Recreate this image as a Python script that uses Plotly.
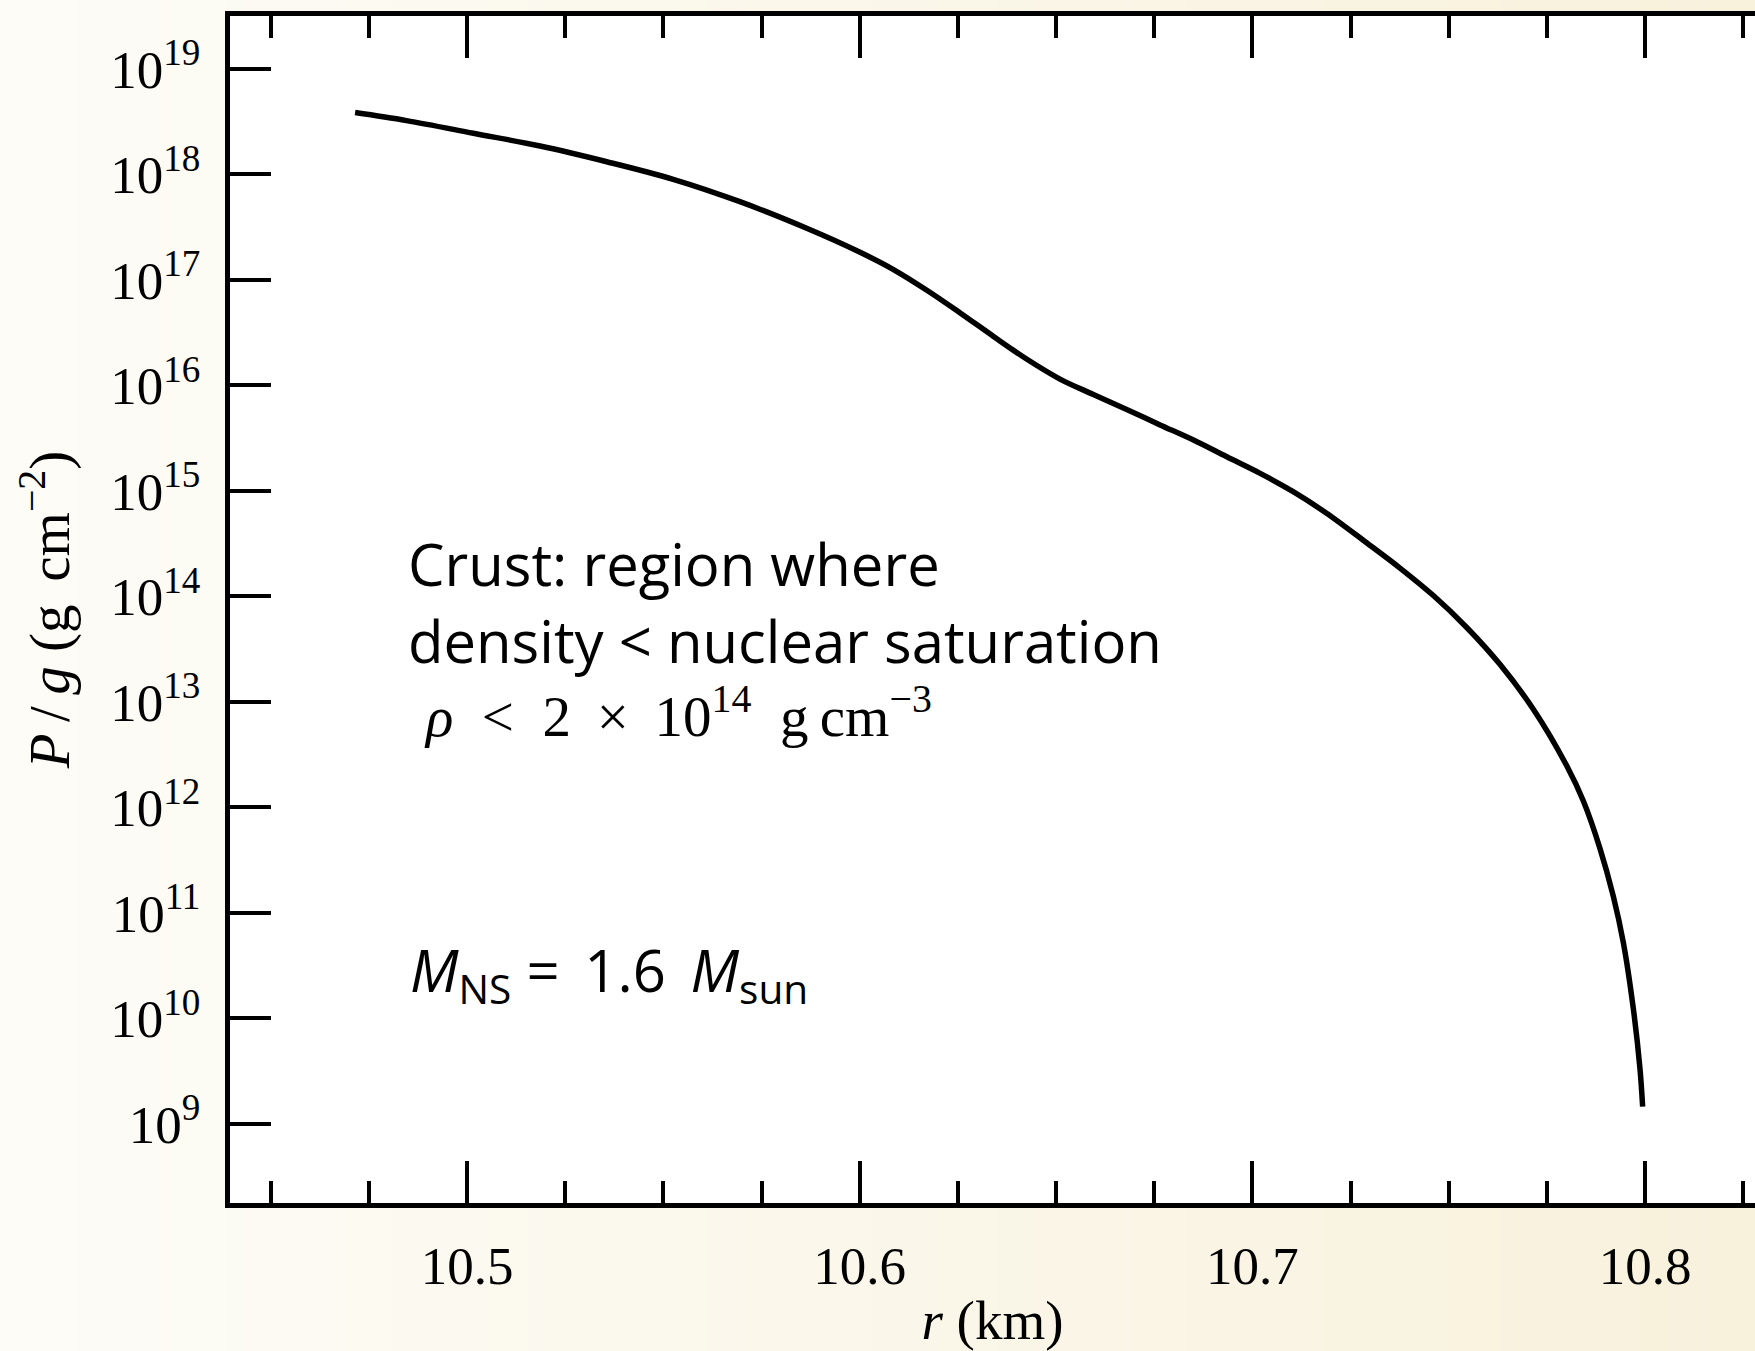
import base64
import struct
import zlib

import plotly.graph_objects as go

# Pressure over gravity in the neutron-star crust, as a function of radius
radius_km = [
    10.4715, 10.4846, 10.5016, 10.5186, 10.5356, 10.5525, 10.5695, 10.5865,
    10.6001, 10.6086, 10.6171, 10.6256, 10.6340, 10.6425, 10.6510, 10.6595,
    10.6680, 10.6765, 10.6850, 10.6935, 10.7020, 10.7104, 10.7189, 10.7291,
    10.7376, 10.7461, 10.7546, 10.7631, 10.7716, 10.7801, 10.7843, 10.7885,
    10.7919, 10.7945, 10.7970, 10.7987, 10.7994,
]
p_over_g = [
    3.86e18, 3.24e18, 2.46e18, 1.86e18, 1.32e18, 9.00e17, 5.52e17, 3.09e17,
    1.83e17, 1.255e17, 7.99e16, 4.87e16, 2.93e16, 1.78e16, 1.15e16, 8.22e15,
    5.92e15, 4.23e15, 3.04e15, 2.11e15, 1.47e15, 9.84e14, 6.15e14, 3.23e14,
    1.86e14, 1.02e14, 5.08e13, 2.26e13, 8.49e12, 2.47e12, 1.15e12, 4.12e11,
    1.45e11, 5.20e10, 1.26e10, 3.40e9, 1.46e9,
]

x_tick_vals = [10.5, 10.6, 10.7, 10.8]
x_tick_text = ["10.5", "10.6", "10.7", "10.8"]
y_exponents = [9, 10, 11, 12, 13, 14, 15, 16, 17, 18, 19]
y_tick_vals = [10.0 ** e for e in y_exponents]
y_tick_text = [f"10<sup>{e}</sup>" for e in y_exponents]

SERIF = "Liberation Serif"
SANS = "Open Sans"
INK = "black"


def gradient_png(left_rgb, right_rgb, width=128):
    """Tiny horizontal-gradient PNG, returned as a data URI."""
    row = bytearray([0])
    for i in range(width):
        t = i / (width - 1)
        for a, b in zip(left_rgb, right_rgb):
            row.append(int(round(a + (b - a) * t)))
    raw = bytes(row)

    def chunk(tag, data):
        c = tag + data
        return struct.pack(">I", len(data)) + c + struct.pack(">I", zlib.crc32(c) & 0xFFFFFFFF)

    png = b"\x89PNG\r\n\x1a\n"
    png += chunk(b"IHDR", struct.pack(">IIBBBBB", width, 1, 8, 2, 0, 0, 0))
    png += chunk(b"IDAT", zlib.compress(raw))
    png += chunk(b"IEND", b"")
    return "data:image/png;base64," + base64.b64encode(png).decode()


fig = go.Figure()
fig.add_trace(
    go.Scatter(
        x=radius_km,
        y=p_over_g,
        mode="lines",
        line=dict(color=INK, width=5.5, shape="spline", smoothing=1.0),
        showlegend=False,
        hoverinfo="skip",
    )
)

axis_font = dict(family=SERIF, size=53, color=INK)

fig.update_layout(
    width=1755,
    height=1351,
    margin=dict(l=230, r=0, t=16, b=148),
    paper_bgcolor="#fbf8ec",
    plot_bgcolor="white",
    showlegend=False,
    images=[
        dict(
            source=gradient_png((253, 252, 247), (248, 241, 220)),
            xref="paper", yref="paper",
            x=-230 / 1525, y=1 + 16 / 1187,
            sizex=1755 / 1525, sizey=1351 / 1187,
            xanchor="left", yanchor="top",
            sizing="stretch", layer="below",
        )
    ],
    shapes=[
        dict(
            type="rect", xref="x domain", yref="y domain",
            x0=0, x1=1, y0=0, y1=1,
            fillcolor="white", line=dict(width=0), layer="below",
        )
    ],
    xaxis=dict(
        range=[10.43964, 10.82801],
        tickvals=x_tick_vals,
        ticktext=x_tick_text,
        ticks="inside",
        ticklen=42,
        tickwidth=4,
        tickcolor=INK,
        minor=dict(dtick=0.025, tick0=10.5, ticks="inside", ticklen=22,
                   tickwidth=3.5, tickcolor=INK, showgrid=False),
        showline=True,
        linewidth=5,
        linecolor=INK,
        mirror="ticks",
        showgrid=False,
        zeroline=False,
        tickfont=axis_font,
        ticklabelstandoff=12,
        title=dict(text="<i>r</i> (km)", font=dict(family=SERIF, size=55, color=INK),
                   standoff=14),
    ),
    yaxis=dict(
        type="log",
        range=[8.251, 19.502],
        tickvals=y_tick_vals,
        ticktext=y_tick_text,
        ticks="inside",
        ticklen=41,
        tickwidth=4,
        tickcolor=INK,
        showline=True,
        linewidth=5,
        linecolor=INK,
        mirror=False,
        showgrid=False,
        zeroline=False,
        tickfont=axis_font,
        ticklabelstandoff=14,
        title=dict(text="<i>P</i>\u2009/\u2009<i>g</i> (g\u2009\u2009cm<sup>\u22122</sup>)",
                   font=dict(family=SERIF, size=57, color=INK), standoff=24),
    ),
    yaxis2=dict(
        type="log",
        overlaying="y",
        matches="y",
        side="right",
        anchor="x",
        range=[8.251, 19.502],
        tickvals=y_tick_vals,
        ticks="inside",
        ticklen=27,
        tickwidth=4,
        tickcolor=INK,
        showticklabels=False,
        showline=False,
        showgrid=False,
        zeroline=False,
    ),
)

# Text notes inside the plot
note_font = dict(family=SANS, size=58, color=INK)
fig.add_annotation(text="Crust: region where", xref="paper", yref="paper",
                   x=0.1154, y=0.539, xanchor="left", yanchor="middle",
                   showarrow=False, font=note_font)
fig.add_annotation(text="density &lt; nuclear saturation", xref="paper", yref="paper",
                   x=0.1154, y=0.4743, xanchor="left", yanchor="middle",
                   showarrow=False, font=note_font)
fig.add_annotation(
    text=("<i>\u03c1</i>\u00a0\u00a0&lt;\u00a0\u00a02\u00a0\u2009\u00d7\u00a0\u2009"
          "10<sup>14</sup>\u00a0\u00a0g\u2009cm<sup>\u22123</sup>"),
    xref="paper", yref="paper",
    x=0.126, y=0.4136, xanchor="left", yanchor="middle",
    showarrow=False, font=dict(family=SERIF, size=57, color=INK))
fig.add_annotation(
    text="<i>M</i><sub>NS</sub>\u00a0=\u00a0\u20091.6\u00a0\u2009<i>M</i><sub>sun</sub>",
    xref="paper", yref="paper",
    x=0.1167, y=0.1938, xanchor="left", yanchor="middle",
    showarrow=False, font=note_font)

fig.write_html("out.html")
